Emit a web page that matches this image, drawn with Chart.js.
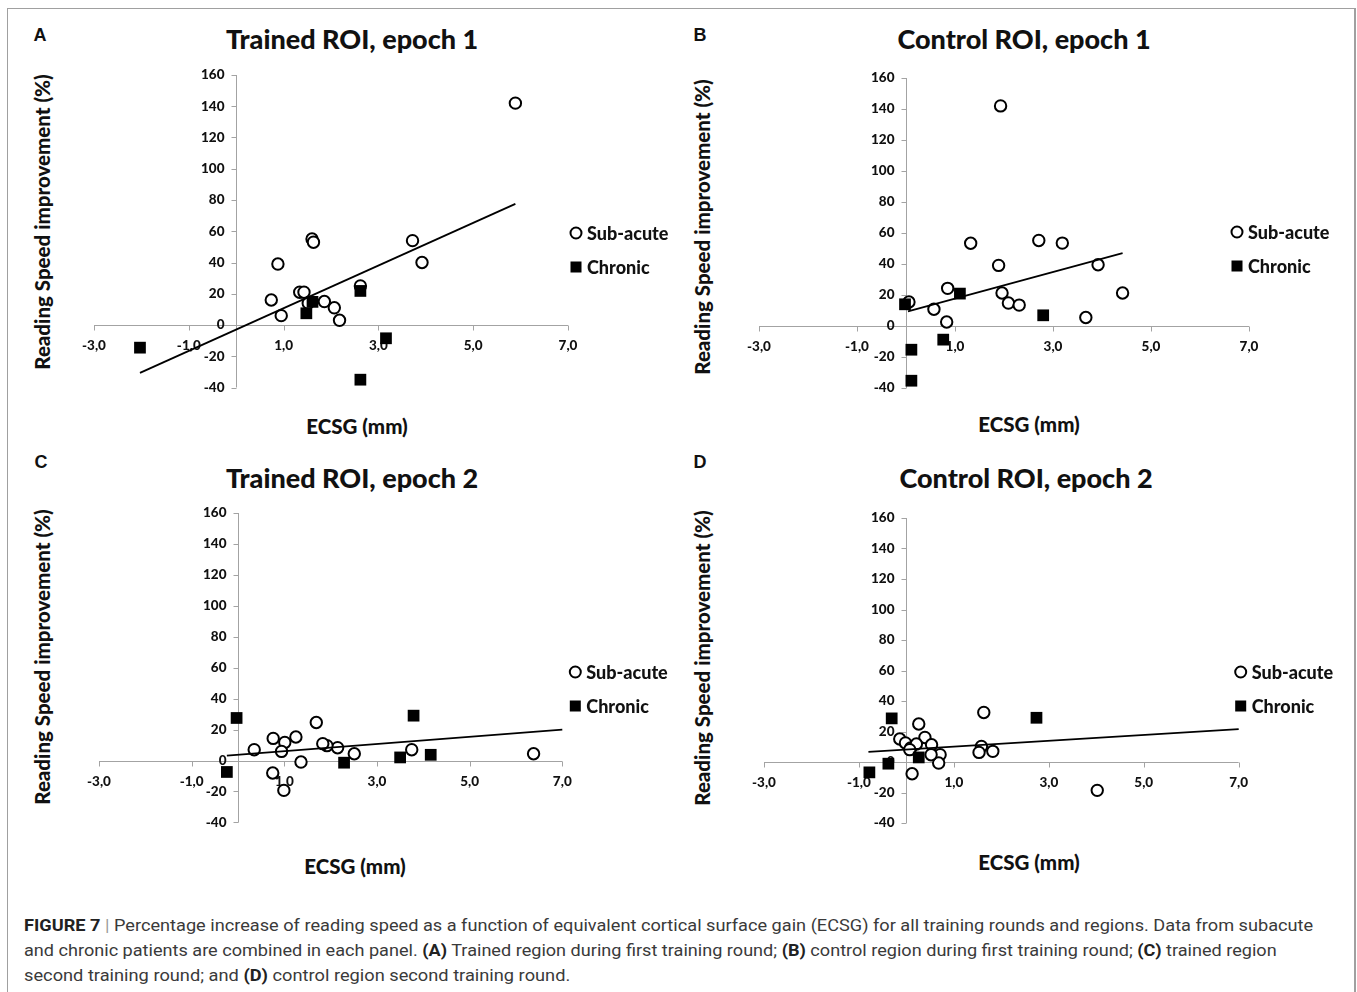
<!DOCTYPE html>
<html>
<head>
<meta charset="utf-8">
<script src="https://cdn.jsdelivr.net/npm/chart.js@4.4.1/dist/chart.umd.min.js"></script>
<style>
  html, body { margin: 0; padding: 0; background: #fff; }
  body { width: 1357px; height: 992px; position: relative; overflow: hidden; font-family: Lato, "Open Sans", sans-serif; color: #111; }
  .frame { position: absolute; left: 7px; top: 8px; width: 1346px; height: 1000px; border: 1px solid #a0a0a0; border-right-width: 2px; border-bottom: none; }
  canvas { position: absolute; }
  .lbl { position: absolute; transform: translate(-50%, -50%); white-space: nowrap; font-weight: 900; }
  .letter { font-size: 18px; font-family: "Liberation Sans", Arial, sans-serif; font-weight: 700; }
  .title { font-size: 27px; }
  .xtitle { font-size: 20.5px; }
  .ytitle { font-size: 20.5px; transform: translate(-50%, -50%) rotate(-90deg); }
  .cap { position: absolute; left: 24px; white-space: nowrap; transform-origin: 0 50%;
         font-family: "Liberation Sans Narrow", "Roboto", sans-serif; font-size: 17px; line-height: 20px; color: #3a3a3a; }
  .cap b { color: #222; }
  .cap .bar { color: #999; }
</style>
</head>
<body>
<div class="frame"></div>

<div class="lbl letter" style="left:40px;top:35px">A</div>
<div class="lbl letter" style="left:700px;top:35px">B</div>
<div class="lbl letter" style="left:41px;top:462px">C</div>
<div class="lbl letter" style="left:700px;top:462px">D</div>

<div class="lbl title" style="left:352px;top:38px">Trained ROI, epoch 1</div>
<div class="lbl title" style="left:1024px;top:38px">Control ROI, epoch 1</div>
<div class="lbl title" style="left:352px;top:477px">Trained ROI, epoch 2</div>
<div class="lbl title" style="left:1026px;top:477px">Control ROI, epoch 2</div>

<div class="lbl ytitle" style="left:42px;top:222px">Reading Speed improvement (%)</div>
<div class="lbl ytitle" style="left:702px;top:227px">Reading Speed improvement (%)</div>
<div class="lbl ytitle" style="left:42px;top:657px">Reading Speed improvement (%)</div>
<div class="lbl ytitle" style="left:702px;top:658px">Reading Speed improvement (%)</div>

<div class="lbl xtitle" style="left:357px;top:426px">ECSG (mm)</div>
<div class="lbl xtitle" style="left:1029px;top:424px">ECSG (mm)</div>
<div class="lbl xtitle" style="left:355px;top:866px">ECSG (mm)</div>
<div class="lbl xtitle" style="left:1029px;top:862px">ECSG (mm)</div>

<canvas id="chartA"></canvas>
<canvas id="chartB"></canvas>
<canvas id="chartC"></canvas>
<canvas id="chartD"></canvas>

<div class="cap" data-w="1289" style="top:915px"><b>FIGURE 7</b> <span class="bar">|</span> Percentage increase of reading speed as a function of equivalent cortical surface gain (ECSG) for all training rounds and regions. Data from subacute</div>
<div class="cap" data-w="1253" style="top:940px">and chronic patients are combined in each panel. <b>(A)</b> Trained region during first training round; <b>(B)</b> control region during first training round; <b>(C)</b> trained region</div>
<div class="cap" data-w="546" style="top:965px">second training round; and <b>(D)</b> control region second training round.</div>

<script>
"use strict";

/* ================================
   DATA
   ================================ */
const X_MIN = -3, X_MAX = 7;
const Y_MIN = -40, Y_MAX = 160;
const xTicks = [-3, -1, 1, 3, 5, 7];
const xTickLabels = ["-3,0", "-1,0", "1,0", "3,0", "5,0", "7,0"];
const yTicks = [-40, -20, 0, 20, 40, 60, 80, 100, 120, 140, 160];
const legendLabels = ["Sub-acute", "Chronic"];

// A — Trained ROI, epoch 1
const subA_x = [5.89, 3.72, 3.92, 0.88, 1.60, 1.63, 0.74, 0.95, 1.34, 1.43, 1.52, 1.86, 2.07, 2.18, 2.62];
const subA_y = [142, 54, 40, 39, 55, 53, 16, 6, 21, 21, 14, 15, 11, 3, 25];
const chrA_x = [-2.03, 1.48, 1.61, 2.62, 3.16, 2.62];
const chrA_y = [-14.5, 7.5, 14.8, 21.8, -8.5, -35];
const fitA_x = [-2.03, 5.89];
const fitA_y = [-30.6, 77.5];

// B — Control ROI, epoch 1
const subB_x = [1.93, 1.32, 2.71, 3.19, 1.89, 3.92, 0.85, 1.96, 2.09, 2.31, 4.42, 3.67, 0.57, 0.83, 0.06];
const subB_y = [142, 53.4, 55.2, 53.5, 39.1, 39.5, 24.3, 21.3, 14.8, 13.5, 21.3, 5.5, 10.8, 2.6, 15.5];
const chrB_x = [-0.02, 1.10, 2.80, 0.76, 0.11, 0.11];
const chrB_y = [14, 20.9, 6.9, -8.8, -15.3, -35.3];
const fitB_x = [0.04, 4.42];
const fitB_y = [9.4, 47];

// C — Trained ROI, epoch 2
const subC_x = [6.38, 3.75, 2.51, 2.15, 1.92, 1.83, 1.69, 1.25, 1.01, 0.94, 0.76, 0.35, 1.36, 0.75, 0.99];
const subC_y = [4.4, 7, 4.4, 8.3, 9.6, 10.9, 24.6, 15.2, 11.7, 5.9, 14.3, 7, -1, -8.1, -19.3];
const chrC_x = [-0.03, -0.24, 2.29, 3.50, 3.79, 4.16];
const chrC_y = [27.5, -7.4, -1.4, 2, 29, 3.7];
const fitC_x = [-0.24, 7.0];
const fitC_y = [3.1, 20];

// D — Control ROI, epoch 2
const subD_x = [4.02, 1.63, 1.82, 1.58, 1.53, 0.26, 0.39, 0.53, 0.71, 0.68, 0.52, -0.14, -0.02, 0.09, 0.21, 0.12, 0.07];
const subD_y = [-18.6, 32.5, 7, 10.2, 6.3, 24.9, 16.1, 11.3, 4.8, -0.7, 4.8, 15.1, 12.5, 9.2, 11.8, -7.7, 8.1];
const chrD_x = [-0.31, 2.74, -0.78, -0.38, 0.26];
const chrD_y = [28.6, 29, -6.8, -1.1, 3];
const fitD_x = [-0.80, 7.0];
const fitD_y = [6.6, 21.6];

/* ================================
   LAYOUT (page pixels of each plot area)
   ================================ */
const MARGIN = { left: 45, right: 118, top: 14, bottom: 32 };
const panels = [
  { id: "chartA", area: { left: 94, right: 568, top: 75, bottom: 387.5 }, legend: { dx: 8, dy: 158 },
    sub: [subA_x, subA_y], chr: [chrA_x, chrA_y], fit: [fitA_x, fitA_y] },
  { id: "chartB", area: { left: 759, right: 1249, top: 78.3, bottom: 388.3 }, legend: { dx: -12, dy: 154 },
    sub: [subB_x, subB_y], chr: [chrB_x, chrB_y], fit: [fitB_x, fitB_y] },
  { id: "chartC", area: { left: 99, right: 562.3, top: 513.3, bottom: 822.7 }, legend: { dx: 13, dy: 159 },
    sub: [subC_x, subC_y], chr: [chrC_x, chrC_y], fit: [fitC_x, fitC_y] },
  { id: "chartD", area: { left: 764.3, right: 1239, top: 518.3, bottom: 823.3 }, legend: { dx: 2, dy: 154 },
    sub: [subD_x, subD_y], chr: [chrD_x, chrD_y], fit: [fitD_x, fitD_y] }
];

/* ================================
   HELPERS
   ================================ */
function zip(xs, ys) { return xs.map((x, i) => ({ x: x, y: ys[i] })); }

const AXIS_COLOR = "#a3a3a3";
const TICK_FONT = "900 13.5px Lato, 'Open Sans', sans-serif";
const LEGEND_FONT = "900 18px Lato, 'Open Sans', sans-serif";

// eixos cruzando em (0,0), desenhados pelas escalas do proprio Chart.js
const crossAxes = {
  id: "crossAxes",
  beforeDatasetsDraw(chart) {
    const { ctx, scales: { x, y } } = chart;
    const px0 = Math.round(x.getPixelForValue(0)) + 0.5;
    const py0 = Math.round(y.getPixelForValue(0)) + 0.5;
    ctx.save();
    ctx.strokeStyle = AXIS_COLOR;
    ctx.lineWidth = 1;
    ctx.beginPath();
    ctx.moveTo(x.getPixelForValue(X_MIN), py0);
    ctx.lineTo(x.getPixelForValue(X_MAX), py0);
    ctx.moveTo(px0, y.getPixelForValue(Y_MIN));
    ctx.lineTo(px0, y.getPixelForValue(Y_MAX));
    xTicks.forEach(v => {
      const p = Math.round(x.getPixelForValue(v)) + 0.5;
      ctx.moveTo(p, py0); ctx.lineTo(p, py0 + 5);
    });
    yTicks.forEach(v => {
      const p = Math.round(y.getPixelForValue(v)) + 0.5;
      ctx.moveTo(px0, p); ctx.lineTo(px0 - 5, p);
    });
    ctx.stroke();

    ctx.fillStyle = "#111";
    ctx.font = TICK_FONT;
    ctx.textBaseline = "middle";
    ctx.textAlign = "center";
    xTicks.forEach((v, i) => ctx.fillText(xTickLabels[i], x.getPixelForValue(v), py0 + 20));
    ctx.textAlign = "right";
    yTicks.forEach(v => ctx.fillText(String(v), px0 - 12, y.getPixelForValue(v)));
    ctx.restore();
  },
  afterDatasetsDraw(chart, args, opts) {
    const { ctx, chartArea } = chart;
    const lx = chartArea.right + opts.dx;
    const ly = chartArea.top + opts.dy;
    ctx.save();
    // marcador sub-agudo
    ctx.beginPath();
    ctx.arc(lx, ly, 5.5, 0, Math.PI * 2);
    ctx.fillStyle = "#fff"; ctx.fill();
    ctx.lineWidth = 2; ctx.strokeStyle = "#000"; ctx.stroke();
    // marcador cronico
    ctx.fillStyle = "#000";
    ctx.fillRect(lx - 5.5, ly + 34 - 5.5, 11, 11);
    ctx.font = LEGEND_FONT;
    ctx.textAlign = "left";
    ctx.textBaseline = "middle";
    ctx.fillStyle = "#111";
    ctx.fillText(legendLabels[0], lx + 11, ly + 1);
    ctx.fillText(legendLabels[1], lx + 11, ly + 35);
    ctx.restore();
  }
};

function makePanel(p) {
  const cv = document.getElementById(p.id);
  const left = p.area.left - MARGIN.left;
  const top = p.area.top - MARGIN.top;
  const w = Math.round(p.area.right + MARGIN.right - left);
  const h = Math.round(p.area.bottom + MARGIN.bottom - top);
  cv.width = w; cv.height = h;
  cv.style.left = left + "px"; cv.style.top = top + "px";
  cv.style.width = w + "px"; cv.style.height = h + "px";

  return new Chart(cv.getContext("2d"), {
    type: "scatter",
    data: {
      datasets: [
        { label: "Trend", data: zip(p.fit[0], p.fit[1]), showLine: true, borderColor: "#000",
          borderWidth: 1.8, pointRadius: 0, order: 0, clip: false },
        { label: legendLabels[1], data: zip(p.chr[0], p.chr[1]), pointStyle: "rect", pointRadius: 8.3,
          backgroundColor: "#000", borderColor: "#000", borderWidth: 0, order: 1, clip: false },
        { label: legendLabels[0], data: zip(p.sub[0], p.sub[1]), pointStyle: "circle", pointRadius: 5.7,
          backgroundColor: "#fff", borderColor: "#000", borderWidth: 2, order: 2, clip: false }
      ]
    },
    options: {
      responsive: false,
      animation: false,
      devicePixelRatio: 1,
      layout: { padding: {
        left: MARGIN.left,
        top: MARGIN.top,
        right: w - MARGIN.left - (p.area.right - p.area.left),
        bottom: h - MARGIN.top - (p.area.bottom - p.area.top)
      } },
      plugins: { legend: { display: false }, tooltip: { enabled: false }, crossAxes: p.legend },
      scales: {
        x: { type: "linear", min: X_MIN, max: X_MAX, display: false },
        y: { type: "linear", min: Y_MIN, max: Y_MAX, display: false }
      }
    },
    plugins: [crossAxes]
  });
}

function fitCaption() {
  document.querySelectorAll(".cap").forEach(el => {
    el.style.transform = "none";
    const target = Number(el.dataset.w);
    const real = el.scrollWidth;
    if (real > 0) el.style.transform = "scaleX(" + (target / real).toFixed(4) + ")";
  });
}

panels.forEach(makePanel);
fitCaption();
if (document.fonts && document.fonts.ready) {
  document.fonts.ready.then(() => { fitCaption(); Object.values(Chart.instances).forEach(c => c.draw()); });
}
</script>
</body>
</html>
